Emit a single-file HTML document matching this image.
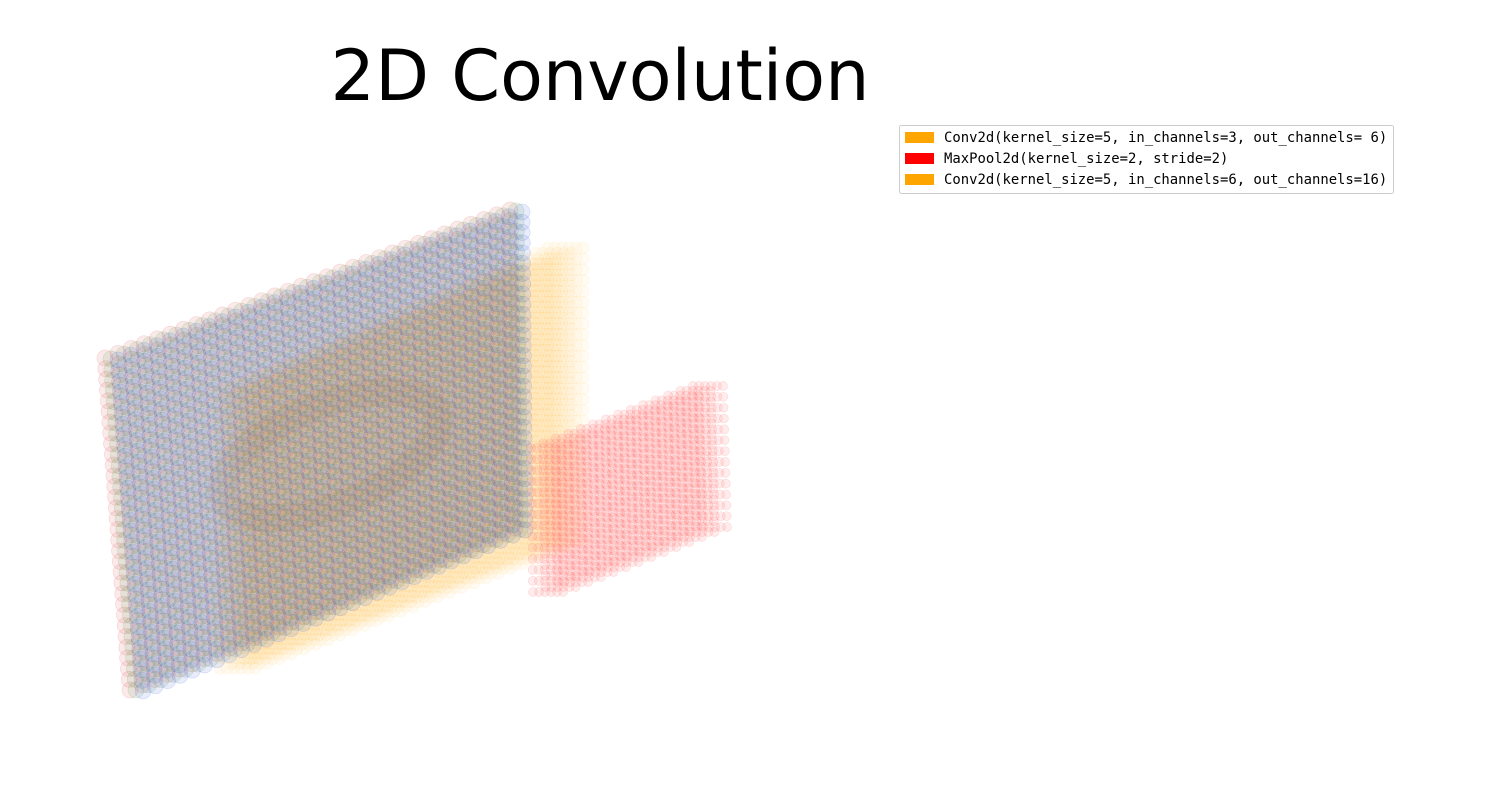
<!DOCTYPE html>
<html><head><meta charset="utf-8"><style>
body{margin:0;background:#fff;width:1500px;height:800px;overflow:hidden;}
svg{display:block}
</style></head><body>
<svg id="chart" width="1500" height="800" xmlns="http://www.w3.org/2000/svg">
<text x="600" y="100" text-anchor="middle" font-family="DejaVu Sans, Liberation Sans, sans-serif" font-size="70">2D Convolution</text>
<g id="marks"></g>
<g>
<rect x="899.5" y="125.5" width="494" height="68" rx="2" fill="#fff" stroke="#ccc"/>
<g><rect x="905" y="132" width="29" height="11" fill="orange"/><text x="944" y="142" font-family="DejaVu Sans Mono, Liberation Mono, monospace" font-size="13.9" xml:space="preserve">Conv2d(kernel_size=5, in_channels=3, out_channels= 6)</text></g>
<g><rect x="905" y="153" width="29" height="11" fill="red"/><text x="944" y="163" font-family="DejaVu Sans Mono, Liberation Mono, monospace" font-size="13.9">MaxPool2d(kernel_size=2, stride=2)</text></g>
<g><rect x="905" y="174" width="29" height="11" fill="orange"/><text x="944" y="184" font-family="DejaVu Sans Mono, Liberation Mono, monospace" font-size="13.9">Conv2d(kernel_size=5, in_channels=6, out_channels=16)</text></g>
</g>
</svg>
<script>
// layer data
const layerNames = ["conv1-output", "maxpool-output", "input-red", "input-green", "input-blue"];
const layerChannels = [6, 6, 1, 1, 1];
const layerGrid = [28, 14, 32, 32, 32];
const layerColors = ["#ffb733", "#ff6a6a", "#e05050", "#50a050", "#4060e0"];
// projection geometry (screen corners of each layer's first channel)
const geo = [
  {tl:[222,392], tr:[548,248], bl:[220,668], br:[548,540], dx:7, r:6, a:0.06},
  {tl:[531,448], tr:[693,386], bl:[533,592], br:[697,527], dx:6, r:4.5, a:0.13},
  {tl:[105,358], tr:[510,210], bl:[130,690], br:[515,528], dx:0, r:8, a:0.12},
  {tl:[111,359], tr:[516,211], bl:[136,690], br:[520,529], dx:0, r:8, a:0.12},
  {tl:[118,360], tr:[522,212], bl:[143,691], br:[525,530], dx:0, r:8, a:0.12}
];
const NS = "http://www.w3.org/2000/svg";
const g = document.getElementById("marks");
function proj(G, u, v){
  const x = (1-u)*(1-v)*G.tl[0] + u*(1-v)*G.tr[0] + (1-u)*v*G.bl[0] + u*v*G.br[0];
  const y = (1-u)*(1-v)*G.tl[1] + u*(1-v)*G.tr[1] + (1-u)*v*G.bl[1] + u*v*G.br[1];
  return [x, y];
}
layerNames.forEach((name, L) => {
  const G = geo[L], n = layerGrid[L];
  const lg = document.createElementNS(NS, "g");
  
  
  for (let c = 0; c < layerChannels[L]; c++) {
    for (let i = 0; i < n; i++) for (let j = 0; j < n; j++) {
      const p = proj(G, i/(n-1), j/(n-1));
      const ci = document.createElementNS(NS, "circle");
      ci.setAttribute("cx", (p[0] + c*G.dx).toFixed(1));
      ci.setAttribute("cy", p[1].toFixed(1));
      ci.setAttribute("r", G.r);
      ci.setAttribute("fill", layerColors[L]);
      ci.setAttribute("fill-opacity", G.a);
      ci.setAttribute("stroke", layerColors[L]);
      ci.setAttribute("stroke-opacity", G.a*1.5);
      ci.setAttribute("stroke-width", "0.7");
      lg.appendChild(ci);
    }
  }
  g.appendChild(lg);
});
const blob = document.createElementNS(NS, "ellipse");


blob.setAttribute("cx", 330); blob.setAttribute("cy", 455);
blob.setAttribute("rx", 115); blob.setAttribute("ry", 50);
blob.setAttribute("transform", "rotate(-22 330 455)");
blob.setAttribute("fill", "none"); blob.setAttribute("stroke", "#7a5a30");
blob.setAttribute("stroke-width", "28"); blob.setAttribute("stroke-opacity", "0.07");
g.appendChild(blob);
</script>
</body></html>
